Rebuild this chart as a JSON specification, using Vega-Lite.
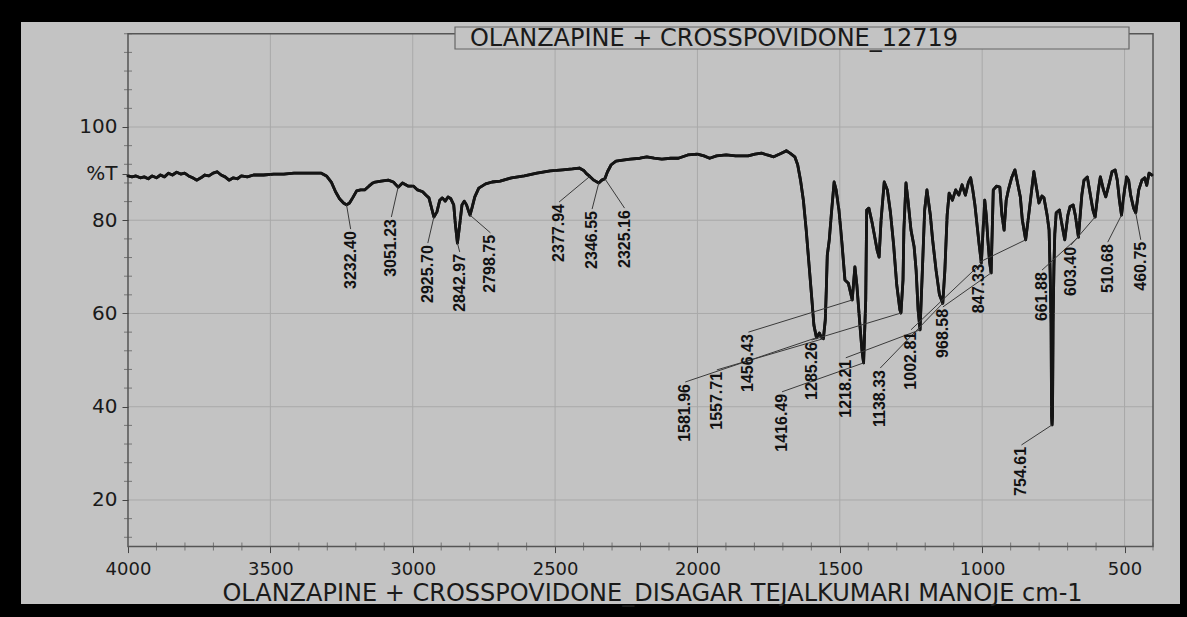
{
  "$schema": "https://vega.github.io/schema/vega-lite/v6.json",
  "width": 1159,
  "height": 582,
  "autosize": {"type": "none"},
  "padding": {"left": 21, "top": 22, "right": 7, "bottom": 13},
  "background": "#000000",
  "config": {
    "view": {"fill": "#c3c3c3", "stroke": null},
    "font": "DejaVu Sans",
    "axis": {"labelOverlap": false, "labelFlush": false, "labelBound": false, "grid": false, "domain": false}
  },
  "datasets": {
    "spectrum": [
      {"wn": 4000, "t": 89.5}, {"wn": 3986, "t": 89.3}, {"wn": 3972, "t": 89.5}, {"wn": 3957, "t": 89.1},
      {"wn": 3943, "t": 89.3}, {"wn": 3929, "t": 88.9}, {"wn": 3915, "t": 89.5}, {"wn": 3900, "t": 89.1},
      {"wn": 3886, "t": 89.7}, {"wn": 3872, "t": 89.3}, {"wn": 3858, "t": 90.1}, {"wn": 3844, "t": 89.7},
      {"wn": 3829, "t": 90.3}, {"wn": 3815, "t": 89.9}, {"wn": 3801, "t": 90.1}, {"wn": 3787, "t": 89.5},
      {"wn": 3773, "t": 89.1}, {"wn": 3758, "t": 88.6}, {"wn": 3744, "t": 89.1}, {"wn": 3730, "t": 89.7},
      {"wn": 3716, "t": 89.5}, {"wn": 3701, "t": 90.1}, {"wn": 3687, "t": 90.4}, {"wn": 3673, "t": 89.7},
      {"wn": 3659, "t": 89.3}, {"wn": 3645, "t": 88.6}, {"wn": 3630, "t": 89.1}, {"wn": 3616, "t": 88.9},
      {"wn": 3602, "t": 89.5}, {"wn": 3581, "t": 89.3}, {"wn": 3559, "t": 89.7}, {"wn": 3524, "t": 89.7},
      {"wn": 3488, "t": 89.9}, {"wn": 3453, "t": 89.9}, {"wn": 3417, "t": 90.1}, {"wn": 3382, "t": 90.1},
      {"wn": 3346, "t": 90.1}, {"wn": 3321, "t": 90.1}, {"wn": 3303, "t": 89.5}, {"wn": 3286, "t": 88.2},
      {"wn": 3271, "t": 86.1}, {"wn": 3257, "t": 84.6}, {"wn": 3243, "t": 83.7}, {"wn": 3232.4, "t": 83.3},
      {"wn": 3222, "t": 83.7}, {"wn": 3211, "t": 84.8}, {"wn": 3197, "t": 86.3}, {"wn": 3183, "t": 86.5},
      {"wn": 3169, "t": 86.5}, {"wn": 3154, "t": 87.3}, {"wn": 3140, "t": 88.0}, {"wn": 3132, "t": 88.2},
      {"wn": 3111, "t": 88.4}, {"wn": 3086, "t": 88.6}, {"wn": 3068, "t": 88.2}, {"wn": 3051.23, "t": 87.1},
      {"wn": 3036, "t": 88.0}, {"wn": 3015, "t": 87.3}, {"wn": 2997, "t": 87.3}, {"wn": 2983, "t": 86.5},
      {"wn": 2965, "t": 86.1}, {"wn": 2954, "t": 85.4}, {"wn": 2943, "t": 84.8}, {"wn": 2932, "t": 82.2},
      {"wn": 2925.7, "t": 80.7}, {"wn": 2915, "t": 81.8}, {"wn": 2905, "t": 84.3}, {"wn": 2896, "t": 84.8},
      {"wn": 2886, "t": 84.1}, {"wn": 2876, "t": 85.0}, {"wn": 2866, "t": 84.6}, {"wn": 2856, "t": 83.3},
      {"wn": 2850, "t": 79.0}, {"wn": 2842.97, "t": 75.1}, {"wn": 2835, "t": 79.0}, {"wn": 2827, "t": 83.3},
      {"wn": 2819, "t": 84.1}, {"wn": 2811, "t": 83.3}, {"wn": 2803, "t": 81.8}, {"wn": 2798.75, "t": 81.1},
      {"wn": 2792, "t": 82.6}, {"wn": 2782, "t": 85.0}, {"wn": 2768, "t": 86.9}, {"wn": 2744, "t": 87.8},
      {"wn": 2721, "t": 88.2}, {"wn": 2693, "t": 88.4}, {"wn": 2653, "t": 89.1}, {"wn": 2608, "t": 89.5},
      {"wn": 2564, "t": 90.1}, {"wn": 2517, "t": 90.6}, {"wn": 2473, "t": 90.8}, {"wn": 2439, "t": 91.0},
      {"wn": 2415, "t": 91.2}, {"wn": 2398, "t": 90.6}, {"wn": 2390, "t": 90.0}, {"wn": 2377.94, "t": 89.4},
      {"wn": 2364, "t": 88.6}, {"wn": 2346.55, "t": 88.0}, {"wn": 2336, "t": 88.6}, {"wn": 2325.16, "t": 88.9},
      {"wn": 2316, "t": 90.4}, {"wn": 2303, "t": 91.9}, {"wn": 2286, "t": 92.7}, {"wn": 2262, "t": 92.9},
      {"wn": 2236, "t": 93.1}, {"wn": 2202, "t": 93.3}, {"wn": 2178, "t": 93.6}, {"wn": 2152, "t": 93.3},
      {"wn": 2125, "t": 93.1}, {"wn": 2094, "t": 93.3}, {"wn": 2067, "t": 93.3}, {"wn": 2034, "t": 94.0},
      {"wn": 2000, "t": 94.2}, {"wn": 1977, "t": 93.8}, {"wn": 1957, "t": 93.3}, {"wn": 1933, "t": 93.8},
      {"wn": 1899, "t": 94.0}, {"wn": 1866, "t": 93.8}, {"wn": 1822, "t": 93.8}, {"wn": 1798, "t": 94.2},
      {"wn": 1775, "t": 94.4}, {"wn": 1755, "t": 94.0}, {"wn": 1732, "t": 93.6}, {"wn": 1711, "t": 94.2},
      {"wn": 1698, "t": 94.6}, {"wn": 1688, "t": 94.9}, {"wn": 1675, "t": 94.4}, {"wn": 1658, "t": 93.6},
      {"wn": 1648, "t": 91.9}, {"wn": 1638, "t": 88.6}, {"wn": 1628, "t": 84.3}, {"wn": 1618, "t": 77.9},
      {"wn": 1608, "t": 70.4}, {"wn": 1598, "t": 62.9}, {"wn": 1591, "t": 57.5}, {"wn": 1581.96, "t": 54.8},
      {"wn": 1571.7, "t": 55.8}, {"wn": 1564.8, "t": 54.9}, {"wn": 1557.71, "t": 54.6}, {"wn": 1551, "t": 58.6},
      {"wn": 1547.5, "t": 65.0}, {"wn": 1544, "t": 72.5}, {"wn": 1537, "t": 75.8}, {"wn": 1530, "t": 81.1},
      {"wn": 1520, "t": 88.2}, {"wn": 1513, "t": 86.5}, {"wn": 1503, "t": 82.2}, {"wn": 1492, "t": 74.7},
      {"wn": 1482, "t": 67.2}, {"wn": 1470, "t": 66.5}, {"wn": 1456.43, "t": 62.9}, {"wn": 1447, "t": 70.0},
      {"wn": 1440, "t": 66.0}, {"wn": 1430, "t": 58.0}, {"wn": 1422, "t": 52.0}, {"wn": 1416.49, "t": 49.4},
      {"wn": 1409, "t": 62.9}, {"wn": 1405.6, "t": 82.2}, {"wn": 1398, "t": 82.6}, {"wn": 1387, "t": 79.6},
      {"wn": 1380, "t": 77.3}, {"wn": 1369, "t": 73.6}, {"wn": 1362, "t": 72.1}, {"wn": 1355, "t": 80.1},
      {"wn": 1344, "t": 88.2}, {"wn": 1333, "t": 86.5}, {"wn": 1322, "t": 81.6}, {"wn": 1311, "t": 74.7},
      {"wn": 1300, "t": 66.1}, {"wn": 1289, "t": 60.8}, {"wn": 1285.26, "t": 60.1}, {"wn": 1278, "t": 67.2},
      {"wn": 1275, "t": 77.9}, {"wn": 1267.6, "t": 88.0}, {"wn": 1260.6, "t": 84.3}, {"wn": 1250, "t": 77.9},
      {"wn": 1239, "t": 74.3}, {"wn": 1232, "t": 69.3}, {"wn": 1225, "t": 60.8}, {"wn": 1218.21, "t": 56.5},
      {"wn": 1210, "t": 69.3}, {"wn": 1202, "t": 82.2}, {"wn": 1194, "t": 86.5}, {"wn": 1182, "t": 81.1},
      {"wn": 1174, "t": 75.8}, {"wn": 1162, "t": 69.3}, {"wn": 1150, "t": 64.0}, {"wn": 1138.33, "t": 62.2},
      {"wn": 1131, "t": 69.3}, {"wn": 1123, "t": 81.1}, {"wn": 1116, "t": 85.8}, {"wn": 1104.5, "t": 84.3},
      {"wn": 1093, "t": 86.5}, {"wn": 1082, "t": 85.4}, {"wn": 1070.6, "t": 87.6}, {"wn": 1059, "t": 85.4},
      {"wn": 1048, "t": 88.2}, {"wn": 1040.5, "t": 89.1}, {"wn": 1033, "t": 86.5}, {"wn": 1025.5, "t": 83.3},
      {"wn": 1018, "t": 79.0}, {"wn": 1010.5, "t": 74.7}, {"wn": 1002.81, "t": 70.8}, {"wn": 997, "t": 77.9},
      {"wn": 991, "t": 84.3}, {"wn": 985.7, "t": 81.1}, {"wn": 980, "t": 75.8}, {"wn": 974, "t": 71.1},
      {"wn": 968.58, "t": 68.7}, {"wn": 961, "t": 86.5}, {"wn": 949.6, "t": 87.3}, {"wn": 938, "t": 87.1},
      {"wn": 930.6, "t": 81.1}, {"wn": 923, "t": 77.9}, {"wn": 915.6, "t": 84.3}, {"wn": 908, "t": 86.5},
      {"wn": 896.6, "t": 89.1}, {"wn": 885, "t": 90.8}, {"wn": 877.8, "t": 88.6}, {"wn": 866, "t": 85.0},
      {"wn": 859, "t": 80.1}, {"wn": 847.33, "t": 75.8}, {"wn": 836.6, "t": 81.1}, {"wn": 829, "t": 85.0},
      {"wn": 818.5, "t": 90.4}, {"wn": 808, "t": 86.5}, {"wn": 800.6, "t": 83.7}, {"wn": 790, "t": 85.2},
      {"wn": 783, "t": 84.8}, {"wn": 772, "t": 81.1}, {"wn": 765, "t": 77.9}, {"wn": 761, "t": 68.0},
      {"wn": 758, "t": 58.0}, {"wn": 756.2, "t": 38.0}, {"wn": 754.61, "t": 36.1}, {"wn": 753, "t": 38.0},
      {"wn": 751, "t": 58.0}, {"wn": 748, "t": 70.0},
      {"wn": 745, "t": 77.0}, {"wn": 740, "t": 81.6}, {"wn": 728.7, "t": 82.2}, {"wn": 717.5, "t": 78.3},
      {"wn": 710, "t": 75.8}, {"wn": 699, "t": 81.1}, {"wn": 691.6, "t": 82.9}, {"wn": 680.5, "t": 83.3},
      {"wn": 673, "t": 81.1}, {"wn": 661.88, "t": 76.4}, {"wn": 650, "t": 85.4}, {"wn": 642.4, "t": 88.6},
      {"wn": 630.7, "t": 89.3}, {"wn": 623, "t": 86.5}, {"wn": 611, "t": 82.2}, {"wn": 603.4, "t": 80.7},
      {"wn": 592, "t": 86.5}, {"wn": 585, "t": 89.3}, {"wn": 574, "t": 86.5}, {"wn": 566, "t": 85.0},
      {"wn": 555, "t": 87.6}, {"wn": 544, "t": 90.4}, {"wn": 533, "t": 90.8}, {"wn": 525.5, "t": 88.6},
      {"wn": 518, "t": 84.3}, {"wn": 510.68, "t": 81.1}, {"wn": 500, "t": 86.5}, {"wn": 493, "t": 89.3},
      {"wn": 485.6, "t": 88.6}, {"wn": 478.5, "t": 85.4}, {"wn": 468, "t": 82.6}, {"wn": 460.75, "t": 81.6},
      {"wn": 450, "t": 86.5}, {"wn": 439, "t": 88.6}, {"wn": 429, "t": 89.1}, {"wn": 422, "t": 87.5},
      {"wn": 414, "t": 90.1}, {"wn": 404, "t": 89.7}
    ],
    "peaks": [
      {"label": "3232.40", "wn": 3232.4, "t": 83.3, "lwn": 3218, "lt": 78.1},
      {"label": "3051.23", "wn": 3051.23, "t": 87.1, "lwn": 3075, "lt": 80.7},
      {"label": "2925.70", "wn": 2925.7, "t": 80.7, "lwn": 2947, "lt": 75.1},
      {"label": "2842.97", "wn": 2842.97, "t": 75.1, "lwn": 2835, "lt": 73.2},
      {"label": "2798.75", "wn": 2798.75, "t": 81.1, "lwn": 2727, "lt": 77.3},
      {"label": "2377.94", "wn": 2377.94, "t": 89.4, "lwn": 2486, "lt": 83.9},
      {"label": "2346.55", "wn": 2346.55, "t": 88.0, "lwn": 2370, "lt": 82.4},
      {"label": "2325.16", "wn": 2325.16, "t": 88.9, "lwn": 2256, "lt": 82.6},
      {"label": "1581.96", "wn": 1581.96, "t": 54.8, "lwn": 2043, "lt": 45.3},
      {"label": "1557.71", "wn": 1557.71, "t": 54.6, "lwn": 1932, "lt": 47.9},
      {"label": "1456.43", "wn": 1456.43, "t": 62.9, "lwn": 1821, "lt": 56.0},
      {"label": "1416.49", "wn": 1416.49, "t": 49.4, "lwn": 1703, "lt": 43.2},
      {"label": "1285.26", "wn": 1285.26, "t": 60.1, "lwn": 1599, "lt": 54.3},
      {"label": "1218.21", "wn": 1218.21, "t": 56.5, "lwn": 1479, "lt": 50.5},
      {"label": "1138.33", "wn": 1138.33, "t": 62.2, "lwn": 1358, "lt": 48.3},
      {"label": "1002.81", "wn": 1002.81, "t": 70.8, "lwn": 1250, "lt": 56.5},
      {"label": "968.58", "wn": 968.58, "t": 68.7, "lwn": 1138, "lt": 61.4},
      {"label": "847.33", "wn": 847.33, "t": 75.8, "lwn": 1010, "lt": 71.0},
      {"label": "754.61", "wn": 754.61, "t": 36.1, "lwn": 862, "lt": 31.8},
      {"label": "661.88", "wn": 661.88, "t": 76.4, "lwn": 790, "lt": 69.3},
      {"label": "603.40", "wn": 603.4, "t": 80.7, "lwn": 688, "lt": 74.7},
      {"label": "510.68", "wn": 510.68, "t": 81.1, "lwn": 559, "lt": 75.3},
      {"label": "460.75", "wn": 460.75, "t": 81.6, "lwn": 443, "lt": 75.8}
    ],
    "gridx": [{"v": 3500}, {"v": 3000}, {"v": 2500}, {"v": 2000}, {"v": 1500}, {"v": 1000}, {"v": 500}],
    "gridy": [{"v": 20}, {"v": 40}, {"v": 60}, {"v": 80}, {"v": 100}],
    "minorx": [
      {"v": 3900}, {"v": 3800}, {"v": 3700}, {"v": 3600}, {"v": 3400}, {"v": 3300}, {"v": 3200}, {"v": 3100},
      {"v": 2900}, {"v": 2800}, {"v": 2700}, {"v": 2600}, {"v": 2400}, {"v": 2300}, {"v": 2200}, {"v": 2100},
      {"v": 1900}, {"v": 1800}, {"v": 1700}, {"v": 1600}, {"v": 1400}, {"v": 1300}, {"v": 1200}, {"v": 1100},
      {"v": 900}, {"v": 800}, {"v": 700}, {"v": 600}, {"v": 400}
    ],
    "minory": [
      {"v": 12}, {"v": 16}, {"v": 24}, {"v": 28}, {"v": 32}, {"v": 36}, {"v": 44}, {"v": 48}, {"v": 52}, {"v": 56},
      {"v": 64}, {"v": 68}, {"v": 72}, {"v": 76}, {"v": 84}, {"v": 88}, {"v": 92}, {"v": 96}, {"v": 104},
      {"v": 108}, {"v": 112}, {"v": 116}, {"v": 120}
    ]
  },
  "layer": [
    {
      "data": {"name": "spectrum"},
      "mark": {"type": "line", "color": "#141414", "strokeWidth": 2.8, "strokeJoin": "round", "strokeCap": "round"},
      "encoding": {
        "x": {
          "field": "wn", "type": "quantitative",
          "scale": {"type": "linear", "domain": [305.2, 4375.8], "reverse": true, "nice": false, "zero": false},
          "axis": {
            "values": [4000, 3500, 3000, 2500, 2000, 1500, 1000, 500],
            "format": "d",
            "offset": -57.4,
            "domain": false,
            "grid": false,
            "ticks": true,
            "tickSize": 6,
            "tickColor": "#444444",
            "labelFont": "DejaVu Sans",
            "labelFontSize": 18,
            "labelColor": "#1a1a1a",
            "labelPadding": 8,
            "labelOverlap": false,
            "labelFlush": false,
            "labelBound": false,
            "title": "OLANZAPINE + CROSSPOVIDONE_DISAGAR TEJALKUMARI MANOJE cm-1",
            "titleFont": "DejaVu Sans",
            "titleFontSize": 24,
            "titleFontWeight": "normal",
            "titleColor": "#1a1a1a",
            "titleX": 631,
            "titleY": 54,
            "titleAlign": "center",
            "titleBaseline": "alphabetic",
            "zindex": 1
          }
        },
        "y": {
          "field": "t", "type": "quantitative",
          "scale": {"type": "linear", "domain": [-2.31, 122.52], "nice": false, "zero": false},
          "axis": {
            "values": [20, 40, 60, 80, 90, 100],
            "labelExpr": "datum.value == 90 ? '%T' : datum.label",
            "offset": -107,
            "domain": false,
            "grid": false,
            "tickSize": 6,
            "tickColor": "#444444",
            "labelFont": "DejaVu Sans",
            "labelFontSize": 20,
            "labelColor": "#1a1a1a",
            "labelPadding": 5,
            "labelOverlap": false,
            "labelFlush": false,
            "labelBound": false,
            "title": null,
            "zindex": 1
          }
        }
      }
    },
    {
      "data": {"name": "gridx"},
      "mark": {"type": "rule", "color": "#a9a9a9", "strokeWidth": 1},
      "encoding": {
        "x": {"field": "v", "type": "quantitative", "scale": {"type": "linear", "domain": [305.2, 4375.8], "reverse": true, "nice": false, "zero": false}},
        "y": {"datum": 10, "type": "quantitative", "scale": {"type": "linear", "domain": [-2.31, 122.52], "nice": false, "zero": false}},
        "y2": {"datum": 120}
      }
    },
    {
      "data": {"name": "gridy"},
      "mark": {"type": "rule", "color": "#a9a9a9", "strokeWidth": 1},
      "encoding": {
        "y": {"field": "v", "type": "quantitative", "scale": {"type": "linear", "domain": [-2.31, 122.52], "nice": false, "zero": false}},
        "x": {"datum": 4000, "type": "quantitative", "scale": {"type": "linear", "domain": [305.2, 4375.8], "reverse": true, "nice": false, "zero": false}},
        "x2": {"datum": 400}
      }
    },
    {
      "data": {"name": "minorx"},
      "mark": {"type": "tick", "orient": "vertical", "size": 8, "thickness": 1, "color": "#555555"},
      "encoding": {
        "x": {"field": "v", "type": "quantitative", "scale": {"type": "linear", "domain": [305.2, 4375.8], "reverse": true, "nice": false, "zero": false}},
        "y": {"datum": 10, "type": "quantitative", "scale": {"type": "linear", "domain": [-2.31, 122.52], "nice": false, "zero": false}}
      }
    },
    {
      "data": {"name": "minory"},
      "mark": {"type": "tick", "orient": "horizontal", "size": 8, "thickness": 1, "color": "#555555"},
      "encoding": {
        "y": {"field": "v", "type": "quantitative", "scale": {"type": "linear", "domain": [-2.31, 122.52], "nice": false, "zero": false}},
        "x": {"datum": 4000, "type": "quantitative", "scale": {"type": "linear", "domain": [305.2, 4375.8], "reverse": true, "nice": false, "zero": false}}
      }
    },
    {
      "data": {"values": [{}]},
      "mark": {"type": "rect", "fill": "transparent", "stroke": "#555555", "strokeWidth": 1.5},
      "encoding": {
        "x": {"datum": 4000, "type": "quantitative", "scale": {"type": "linear", "domain": [305.2, 4375.8], "reverse": true, "nice": false, "zero": false}},
        "x2": {"datum": 400},
        "y": {"datum": 10, "type": "quantitative", "scale": {"type": "linear", "domain": [-2.31, 122.52], "nice": false, "zero": false}},
        "y2": {"datum": 120}
      }
    },
    {
      "data": {"name": "spectrum"},
      "mark": {"type": "line", "color": "#141414", "strokeWidth": 2.8, "strokeJoin": "round", "strokeCap": "round"},
      "encoding": {
        "x": {"field": "wn", "type": "quantitative", "scale": {"type": "linear", "domain": [305.2, 4375.8], "reverse": true, "nice": false, "zero": false}},
        "y": {"field": "t", "type": "quantitative", "scale": {"type": "linear", "domain": [-2.31, 122.52], "nice": false, "zero": false}}
      }
    },
    {
      "data": {"name": "peaks"},
      "mark": {"type": "rule", "color": "#3a3a3a", "strokeWidth": 1},
      "encoding": {
        "x": {"field": "wn", "type": "quantitative", "scale": {"type": "linear", "domain": [305.2, 4375.8], "reverse": true, "nice": false, "zero": false}},
        "y": {"field": "t", "type": "quantitative", "scale": {"type": "linear", "domain": [-2.31, 122.52], "nice": false, "zero": false}},
        "x2": {"field": "lwn"},
        "y2": {"field": "lt"}
      }
    },
    {
      "data": {"name": "peaks"},
      "mark": {"type": "text", "angle": 270, "align": "right", "baseline": "middle", "dx": -2, "font": "Liberation Sans", "fontWeight": "bold", "fontSize": 16, "color": "#111111"},
      "encoding": {
        "x": {"field": "lwn", "type": "quantitative", "scale": {"type": "linear", "domain": [305.2, 4375.8], "reverse": true, "nice": false, "zero": false}},
        "y": {"field": "lt", "type": "quantitative", "scale": {"type": "linear", "domain": [-2.31, 122.52], "nice": false, "zero": false}},
        "text": {"field": "label", "type": "nominal"}
      }
    },
    {
      "data": {"values": [{}]},
      "mark": {"type": "rect", "fill": "#c3c3c3", "stroke": "#666666", "strokeWidth": 1.2},
      "encoding": {
        "x": {"datum": 2851.5, "type": "quantitative", "scale": {"type": "linear", "domain": [305.2, 4375.8], "reverse": true, "nice": false, "zero": false}},
        "x2": {"datum": 484.3},
        "y": {"datum": 121.45, "type": "quantitative", "scale": {"type": "linear", "domain": [-2.31, 122.52], "nice": false, "zero": false}},
        "y2": {"datum": 116.73}
      }
    },
    {
      "data": {"values": [{}]},
      "mark": {"type": "text", "align": "left", "baseline": "middle", "font": "DejaVu Sans", "fontSize": 24, "color": "#1a1a1a", "text": "OLANZAPINE + CROSSPOVIDONE_12719"},
      "encoding": {
        "x": {"datum": 2799, "type": "quantitative", "scale": {"type": "linear", "domain": [305.2, 4375.8], "reverse": true, "nice": false, "zero": false}},
        "y": {"datum": 118.98, "type": "quantitative", "scale": {"type": "linear", "domain": [-2.31, 122.52], "nice": false, "zero": false}}
      }
    }
  ]
}
